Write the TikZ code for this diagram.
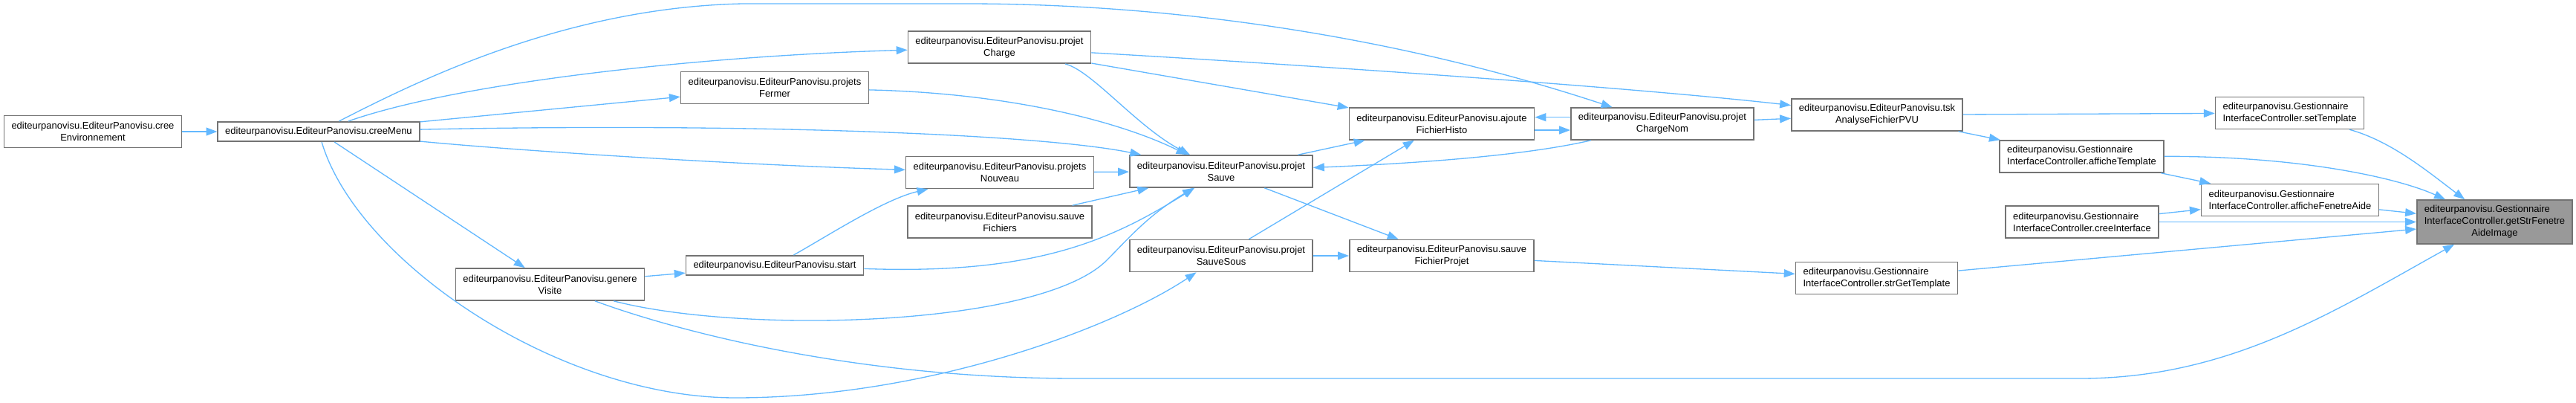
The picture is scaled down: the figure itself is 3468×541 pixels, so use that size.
\documentclass[tikz,border=0pt]{standalone}
\usepackage{fontspec}
\setmainfont{Liberation Sans}
\usepackage{xcolor}
\usetikzlibrary{arrows.meta}
\definecolor{callblue}{HTML}{63B8FF}
\definecolor{selgray}{HTML}{999999}

\begin{document}
\begin{tikzpicture}[x=0.02cm,y=-0.02cm,>={Triangle[length=8.5pt,width=6.2pt]},
  fn/.style={draw=black!55,line width=0.9pt,fill=white,align=center,
    inner xsep=0.2cm,inner ysep=2pt,minimum height=0.86cm,
    font=\fontsize{7.4}{9.07}\selectfont},
  fnone/.style={fn,minimum height=0.53cm},
  gestfn/.style={fn,align=left},
  call/.style={->,draw=callblue,line width=0.75pt}]
  \useasboundingbox (0,0) rectangle (3468,541);
  % Draw the functions of EditeurPanovisu
  \node[fn] (creeEnv) at (125,177) {editeurpanovisu.EditeurPanovisu.cree\\Environnement};
  \node[fnone] (creeMenu) at (429,177) {editeurpanovisu.EditeurPanovisu.creeMenu};
  \node[fn] (genereVisite) at (740.5,382.5) {editeurpanovisu.EditeurPanovisu.genere\\Visite};
  \node[fn] (projetCharge) at (1345.5,63.7) {editeurpanovisu.EditeurPanovisu.projet\\Charge};
  \node[fn] (projetsFermer) at (1043,118) {editeurpanovisu.EditeurPanovisu.projets\\Fermer};
  \node[fn] (projetsNouveau) at (1346,232) {editeurpanovisu.EditeurPanovisu.projets\\Nouveau};
  \node[fn] (sauveFichiers) at (1346,298.5) {editeurpanovisu.EditeurPanovisu.sauve\\Fichiers};
  \node[fnone] (start) at (1043,357) {editeurpanovisu.EditeurPanovisu.start};
  \node[fn] (projetSauve) at (1644,230.5) {editeurpanovisu.EditeurPanovisu.projet\\Sauve};
  \node[fn] (projetSauveSous) at (1644,344) {editeurpanovisu.EditeurPanovisu.projet\\SauveSous};
  \node[fn] (ajouteHisto) at (1941,166.5) {editeurpanovisu.EditeurPanovisu.ajoute\\FichierHisto};
  \node[fn] (chargeNom) at (2238,166.5) {editeurpanovisu.EditeurPanovisu.projet\\ChargeNom};
  \node[fn] (sauveProjet) at (1941,344) {editeurpanovisu.EditeurPanovisu.sauve\\FichierProjet};
  \node[fn] (tskAnalyse) at (2527,154.5) {editeurpanovisu.EditeurPanovisu.tsk\\AnalyseFichierPVU};
  % Draw the functions of GestionnaireInterfaceController
  \node[gestfn] (strGetTemplate) at (2526.5,374) {editeurpanovisu.Gestionnaire\\InterfaceController.strGetTemplate};
  \node[gestfn] (setTemplate) at (3082.5,152) {editeurpanovisu.Gestionnaire\\InterfaceController.setTemplate};
  \node[gestfn] (afficheTemplate) at (2802.5,210.5) {editeurpanovisu.Gestionnaire\\InterfaceController.afficheTemplate};
  \node[gestfn] (afficheAide) at (3083,269) {editeurpanovisu.Gestionnaire\\InterfaceController.afficheFenetreAide};
  \node[gestfn] (creeInterface) at (2803,298.5) {editeurpanovisu.Gestionnaire\\InterfaceController.creeInterface};
  \node[fn,fill=selgray,minimum height=1.18cm] (getStrAide) at (3358.5,298.5)
    {\begin{tabular}{@{}c@{}}\multicolumn{1}{@{}l@{}}{editeurpanovisu.Gestionnaire}\\
     InterfaceController.getStrFenetre\\ AideImage\end{tabular}};
  % Draw the calls from creeMenu
  \draw[call] (creeEnv) -- (creeMenu);
  \draw[call] (creeMenu) -- (genereVisite);
  \draw[call] (creeMenu) .. controls (620,110) and (950,75) .. (projetCharge);
  \draw[call] (creeMenu) -- (projetsFermer);
  \draw[call] (creeMenu) .. controls (1000,165) and (1400,180) .. (projetSauve);
  \draw[call] (creeMenu) .. controls (700,203) and (1000,222) .. (projetsNouveau);
  \draw[call] (creeMenu) .. controls (560,110) and (760,10) .. (1000,5) -- (1300,5)
    .. controls (1600,5) and (1900,55) .. (chargeNom);
  \draw[call] (creeMenu) .. controls (480,350) and (750,535) .. (990,535)
    .. controls (1250,535) and (1500,440) .. (projetSauveSous);
  % Draw the calls from genereVisite and start
  \draw[call] (genereVisite) -- (start);
  \draw[call] (genereVisite) .. controls (1000,450) and (1400,440) .. (1490,350)
    .. controls (1520,320) and (1545,290) .. (projetSauve);
  \draw[call] (genereVisite) .. controls (910,445) and (1150,509) .. (1450,509) -- (2800,509)
    .. controls (3000,509) and (3140,420) .. (getStrAide);
  \draw[call] (start) .. controls (1110,320) and (1190,268) .. (projetsNouveau);
  \draw[call] (start) .. controls (1400,370) and (1500,320) .. (projetSauve);
  % Draw the calls towards projetSauve
  \draw[call] (projetsNouveau) -- (projetSauve);
  \draw[call] (sauveFichiers) -- (projetSauve);
  \draw[call] (projetsFermer) .. controls (1350,125) and (1500,160) .. (projetSauve);
  \draw[call] (projetCharge) .. controls (1470,95) and (1530,170) .. (projetSauve);
  \draw[call] (chargeNom) .. controls (2050,210) and (1900,220) .. (projetSauve);
  % Draw the calls between the projet functions
  \draw[call] (projetCharge) .. controls (1800,90) and (2200,118) .. (tskAnalyse);
  \draw[call] (projetCharge) -- (ajouteHisto);
  \draw[call] (projetSauve) -- (ajouteHisto);
  \draw[call] (projetSauve) -- (sauveProjet);
  \draw[call] (projetSauveSous) -- (ajouteHisto);
  \draw[call] (projetSauveSous) -- (sauveProjet);
  \draw[call] ([yshift=-0.17cm]ajouteHisto.east) -- ([yshift=-0.17cm]chargeNom.west);
  \draw[call] ([yshift=0.176cm]chargeNom.west) -- ([yshift=0.176cm]ajouteHisto.east);
  \draw[call] (chargeNom) -- (tskAnalyse);
  \draw[call] (sauveProjet) -- (strGetTemplate);
  % Draw the calls towards getStrFenetreAideImage
  \draw[call] (tskAnalyse) -- (setTemplate);
  \draw[call] (tskAnalyse) -- (afficheTemplate);
  \draw[call] (afficheTemplate) -- (afficheAide);
  \draw[call] (afficheTemplate) .. controls (3100,210) and (3230,240) .. (getStrAide);
  \draw[call] (setTemplate) .. controls (3220,190) and (3270,232) .. (getStrAide);
  \draw[call] (creeInterface) -- (afficheAide);
  \draw[call] (creeInterface) -- (getStrAide);
  \draw[call] (afficheAide) -- (getStrAide);
  \draw[call] (strGetTemplate) -- (getStrAide);
\end{tikzpicture}
\end{document}
